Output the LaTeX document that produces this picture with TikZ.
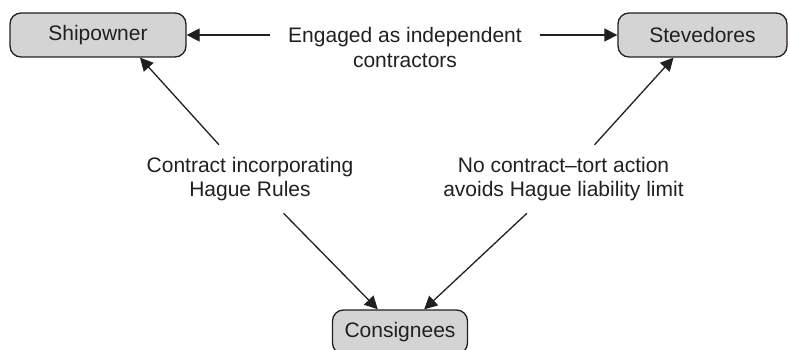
\documentclass[tikz,border=0pt]{standalone}
\usepackage{fontspec}
\setmainfont{Liberation Sans}
\usepackage{tikz}
\usetikzlibrary{positioning, calc, arrows.meta}
\definecolor{boxgrey}{RGB}{212,212,212}
\definecolor{inkgrey}{RGB}{35,31,32}
\tikzstyle{Arrow} = [
%Straight line with a filled triangle head:
line width=1.3pt, draw=inkgrey,
-{Triangle[length=13pt, width=13pt]}
]

\begin{document}
\begin{tikzpicture}[x=1pt, y=-1pt,
				party/.style = {rectangle, rounded corners=11pt, draw=inkgrey, line width=1.3pt, fill=boxgrey, text=inkgrey, minimum height=44pt, inner sep=0pt, font=\fontsize{21}{24.5}\selectfont},
				remark/.style = {align=center, text=inkgrey, inner sep=12pt, font=\fontsize{21}{24.5}\selectfont},
			]
			\useasboundingbox (0,0) rectangle (788,350);

			\node[party, minimum width=176pt](ship) at (98,35){Shipowner};
			\node[party, minimum width=169pt](steve) at (702.5,35){Stevedores};
			\node[party, minimum width=135pt](cons) at (400,332){Consignees};

			\node[remark, inner xsep=18pt](eng) at (405,47.5){Engaged as independent\\contractors};
			\node[remark](hague) at (250,179){Contract incorporating\\Hague Rules};
			\node[remark](notort) at (563.5,179){No contract--tort action\\avoids Hague liability limit};

			\draw[Arrow](eng.west |- ship.east)--(ship.east);
			\draw[Arrow](eng.east |- steve.west)--(steve.west);
			\draw[Arrow](hague)--([xshift=42pt]ship.south);
			\draw[Arrow](hague)--(cons);
			\draw[Arrow](notort)--([xshift=-29pt]steve.south);
			\draw[Arrow](notort)--(cons);

		\end{tikzpicture}
\end{document}
